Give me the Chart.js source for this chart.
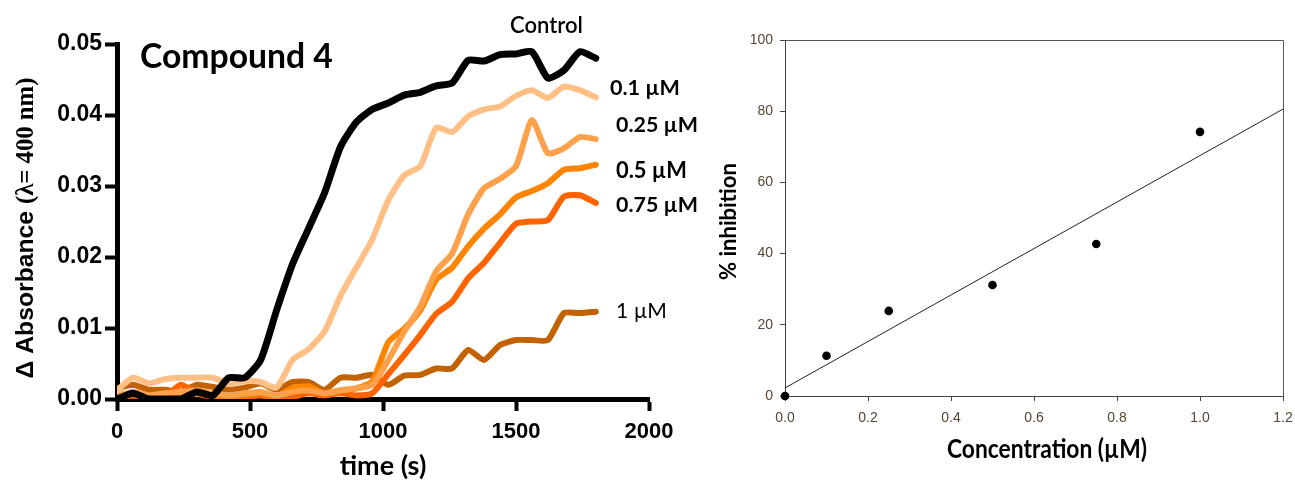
<!DOCTYPE html>
<html>
<head>
<meta charset="utf-8">
<script src="https://cdn.jsdelivr.net/npm/chart.js@4.4.1/dist/chart.umd.min.js"></script>
<style>
  html, body { margin: 0; padding: 0; background: #fff; }
  #wrap { position: relative; width: 1295px; height: 485px; overflow: hidden; }
  canvas { position: absolute; top: 0; }
  #kinetics { left: 0; }
  #inhibition { left: 700px; }
</style>
</head>
<body>
<div id="wrap">
  <canvas id="kinetics" width="700" height="485"></canvas>
  <canvas id="inhibition" width="595" height="485"></canvas>
</div>
<script>
// ---- Kinetic traces: change in absorbance at 400 nm vs. time ----
const timeS = [0, 60, 120, 180, 240, 300, 360, 420, 480, 540, 600, 660, 720, 780, 840, 900,
               960, 1020, 1080, 1140, 1200, 1260, 1320, 1380, 1440, 1500, 1560, 1620, 1680, 1740, 1800];

const control = [0, 0.0008, 0, 0, 0, 0.001, 0.0005, 0.003, 0.003, 0.0055, 0.0125, 0.019, 0.024, 0.029, 0.0355, 0.039,
                 0.0408, 0.0417, 0.0428, 0.0432, 0.0441, 0.0445, 0.0477, 0.0476, 0.0485, 0.0486, 0.0489, 0.0452, 0.0463, 0.0489, 0.048];
const dose01 = [0.0012, 0.003, 0.0022, 0.0028, 0.003, 0.003, 0.003, 0.0022, 0.0025, 0.0024, 0.0016, 0.0055, 0.007, 0.0095, 0.0145, 0.0185,
                0.0225, 0.028, 0.0315, 0.0328, 0.0382, 0.0376, 0.0398, 0.0408, 0.0412, 0.0427, 0.0435, 0.0424, 0.044, 0.0435, 0.0425];
const dose025 = [0.0005, 0.001, 0.0005, 0.0008, 0.001, 0.0012, 0.0008, 0.0005, 0.0008, 0.001, 0.0005, 0.001, 0.0012, 0.0008, 0.0012, 0.0015,
                 0.002, 0.0055, 0.0095, 0.013, 0.018, 0.0205, 0.026, 0.0297, 0.031, 0.0328, 0.0393, 0.0346, 0.0353, 0.0369, 0.0366];
const dose05 = [0, 0.0008, 0, 0.0003, 0.0005, 0.0008, 0.0005, 0.0003, 0.0005, 0.0008, 0.0003, 0.0015, 0.0018, 0.0008, 0.0012, 0.0015,
                0.0025, 0.008, 0.0099, 0.0125, 0.0168, 0.0185, 0.0215, 0.024, 0.026, 0.0284, 0.0293, 0.0304, 0.0323, 0.0325, 0.033];
const dose075 = [0, 0.0005, 0, 0.0003, 0.002, 0.0008, 0.0003, 0, 0.0003, 0.0005, 0, 0.0003, 0.0008, 0.0005, 0.0008, 0.0005,
                 0.0008, 0.0035, 0.0062, 0.009, 0.012, 0.0137, 0.017, 0.0192, 0.022, 0.0247, 0.025, 0.0252, 0.0285, 0.0287, 0.0276];
const dose1 = [0.0015, 0.002, 0.0013, 0.0013, 0.001, 0.002, 0.0017, 0.0013, 0.0016, 0.0022, 0.0013, 0.0024, 0.0024, 0.0013, 0.003, 0.003,
               0.0034, 0.002, 0.0033, 0.0034, 0.0043, 0.0043, 0.0069, 0.0055, 0.0076, 0.0083, 0.0083, 0.0083, 0.0121, 0.0121, 0.0123];

const seriesNames = ['Control', '0.1 \u00b5M', '0.25 \u00b5M', '0.5 \u00b5M', '0.75 \u00b5M', '1 \u00b5M'];
const seriesValues = [control, dose01, dose025, dose05, dose075, dose1];
const seriesColors = ['#000000', '#ffbf85', '#ffa04a', '#ff8400', '#ff6400', '#c26200'];
const seriesWidths = [7, 6, 6, 6, 6, 6];

const absTicks = [0, 0.01, 0.02, 0.03, 0.04, 0.05];
const timeTicks = [0, 500, 1000, 1500, 2000];

// ---- Dose response: % inhibition vs. concentration ----
const concentrationUM = [0, 0.1, 0.25, 0.5, 0.75, 1.0];
const inhibitionPct = [0, 11.3, 23.9, 31.2, 42.7, 74.2];
const concTicks = [0, 0.2, 0.4, 0.6, 0.8, 1.0, 1.2];
const pctTicks = [0, 20, 40, 60, 80, 100];

// least-squares straight line through the dose-response points
function linearFit(xs, ys) {
  const n = xs.length;
  const mx = xs.reduce((a, b) => a + b, 0) / n;
  const my = ys.reduce((a, b) => a + b, 0) / n;
  let sxy = 0, sxx = 0;
  for (let i = 0; i < n; i++) { sxy += (xs[i] - mx) * (ys[i] - my); sxx += (xs[i] - mx) ** 2; }
  const slope = sxy / sxx;
  return { slope, intercept: my - slope * mx };
}

// draw text scaled so that it spans a given width
function fitText(ctx, text, x, y, family, weight, width, stretchY) {
  ctx.font = `${weight} 100px ${family}`;
  const w = ctx.measureText(text).width;
  const size = 100 * width / w;
  ctx.font = `${weight} ${size}px ${family}`;
  ctx.save();
  ctx.translate(x, y);
  ctx.scale(1, stretchY || 1);
  ctx.fillText(text, 0, 0);
  ctx.restore();
}

Chart.defaults.font.family = "'Liberation Sans', Arial, sans-serif";

// ---------- left panel ----------
const kineticLabels = {
  id: 'kineticLabels',
  afterDraw(chart) {
    const ctx = chart.ctx;
    ctx.save();
    ctx.fillStyle = '#000';
    ctx.textAlign = 'left';
    ctx.textBaseline = 'alphabetic';
    fitText(ctx, 'Compound 4', 140, 68, 'Lato', 'bold', 193);
    const place = [
      { x: 510, y: 33, w: 73, wt: '600' },
      { x: 610, y: 95, w: 70, wt: 'bold' },
      { x: 616, y: 132, w: 82, wt: 'bold' },
      { x: 616, y: 178, w: 71, wt: 'bold' },
      { x: 616, y: 212, w: 82, wt: 'bold' },
      { x: 616, y: 318, w: 51, wt: 'normal' }
    ];
    seriesNames.forEach((name, i) => {
      const p = place[i];
      fitText(ctx, name, p.x, p.y, 'Lato', p.wt, p.w);
    });

    // vertical axis title: sans part + serif part, sized to span 301 px
    const part1 = '\u0394 Absorbance ';
    const part2 = '(\u03bb= 400 nm)';
    let size = 100;
    const f1 = s => `bold ${s}px 'Liberation Sans', Arial, sans-serif`;
    const f2 = s => `bold ${s}px 'Liberation Serif', 'Times New Roman', serif`;
    ctx.font = f1(size); let w1 = ctx.measureText(part1).width;
    ctx.font = f2(size); let w2 = ctx.measureText(part2).width;
    size = size * 301 / (w1 + w2);
    ctx.font = f1(size); w1 = ctx.measureText(part1).width;
    ctx.font = f2(size); w2 = ctx.measureText(part2).width;
    const total = w1 + w2;
    ctx.translate(33, 228);
    ctx.rotate(-Math.PI / 2);
    ctx.font = f1(size); ctx.fillText(part1, -total / 2, 0);
    ctx.font = f2(size); ctx.fillText(part2, -total / 2 + w1, 0);
    ctx.restore();
  }
};

new Chart(document.getElementById('kinetics'), {
  type: 'line',
  data: {
    datasets: seriesNames.map((name, i) => ({
      label: name,
      data: timeS.map((t, k) => ({ x: t, y: seriesValues[i][k] })),
      borderColor: seriesColors[i],
      backgroundColor: seriesColors[i],
      borderWidth: seriesWidths[i],
      borderCapStyle: 'round',
      borderJoinStyle: 'round',
      pointRadius: 0,
      tension: 0.2,
      fill: false
    }))
  },
  options: {
    responsive: false,
    animation: false,
    devicePixelRatio: 1,
    events: [],
    layout: { padding: { left: 0, top: 44, right: 51, bottom: 0 } },
    plugins: { legend: { display: false }, tooltip: { enabled: false } },
    scales: {
      x: {
        type: 'linear', min: 0, max: 2000,
        afterBuildTicks: s => { s.ticks = timeTicks.map(v => ({ value: v })); },
        ticks: { color: '#000', font: { size: 22, weight: 'bold' }, padding: 8, maxRotation: 0, callback: v => String(v) },
        grid: { drawOnChartArea: false, drawTicks: true, tickLength: 12, tickWidth: 4, tickColor: '#000' },
        border: { display: true, width: 5, color: '#000' },
        title: { display: true, text: 'time (s)', color: '#000',
                 font: { family: 'Lato', size: 27, weight: 'bold' }, padding: { top: 0, bottom: 3 } },
        afterFit: s => { s.height = 86; }
      },
      y: {
        min: 0, max: 0.05,
        afterBuildTicks: s => { s.ticks = absTicks.map(v => ({ value: v })); },
        ticks: { color: '#000', font: { size: 23, weight: 'bold' }, padding: 3, callback: v => v.toFixed(2) },
        grid: { drawOnChartArea: false, drawTicks: true, tickLength: 12, tickWidth: 4, tickColor: '#000' },
        border: { display: true, width: 5, color: '#000' },
        afterFit: s => { s.width = 117; }
      }
    }
  },
  plugins: [kineticLabels]
});

// ---------- right panel ----------
const fit = linearFit(concentrationUM, inhibitionPct);
const fitLine = [0, 1.2].map(x => ({ x, y: fit.intercept + fit.slope * x }));

const frameAndTitles = {
  id: 'frameAndTitles',
  afterDraw(chart) {
    const { ctx, chartArea: a } = chart;
    ctx.save();
    ctx.strokeStyle = '#555';
    ctx.lineWidth = 1;
    ctx.beginPath();
    ctx.moveTo(Math.round(a.left) + 0.5, Math.round(a.top) + 0.5);
    ctx.lineTo(Math.round(a.right) + 0.5, Math.round(a.top) + 0.5);
    ctx.lineTo(Math.round(a.right) + 0.5, Math.round(a.bottom) + 0.5);
    ctx.stroke();

    ctx.fillStyle = '#000';
    ctx.textAlign = 'left';
    ctx.textBaseline = 'alphabetic';
    fitText(ctx, 'Concentration (\u00b5M)', 247, 458, 'Lato', 'bold', 200, 1.2);

    ctx.translate(36, 280);
    ctx.rotate(-Math.PI / 2);
    fitText(ctx, '% inhibition', 0, 0, 'Lato', 'bold', 117);
    ctx.restore();
  }
};

new Chart(document.getElementById('inhibition'), {
  type: 'scatter',
  data: {
    datasets: [
      {
        label: 'fit',
        type: 'line',
        data: fitLine,
        borderColor: '#222',
        borderWidth: 1,
        pointRadius: 0,
        showLine: true,
        fill: false
      },
      {
        label: '% inhibition',
        data: concentrationUM.map((c, i) => ({ x: c, y: inhibitionPct[i] })),
        pointRadius: 4.3,
        pointBackgroundColor: '#000',
        pointBorderWidth: 0,
        clip: false
      }
    ]
  },
  options: {
    responsive: false,
    animation: false,
    devicePixelRatio: 1,
    events: [],
    layout: { padding: { left: 0, top: 40, right: 12, bottom: 0 } },
    plugins: { legend: { display: false }, tooltip: { enabled: false } },
    scales: {
      x: {
        type: 'linear', min: 0, max: 1.2,
        afterBuildTicks: s => { s.ticks = concTicks.map(v => ({ value: v })); },
        ticks: { color: '#554633', font: { size: 14 }, padding: 9, maxRotation: 0, callback: v => v.toFixed(1) },
        grid: { drawOnChartArea: false, drawTicks: true, tickLength: 5, tickWidth: 1, tickColor: '#444' },
        border: { display: true, width: 1, color: '#444' },
        afterFit: s => { s.height = 89; s.paddingLeft = 0; s.paddingRight = 0; }
      },
      y: {
        type: 'linear', min: 0, max: 100,
        afterBuildTicks: s => { s.ticks = pctTicks.map(v => ({ value: v })); },
        ticks: { color: '#554633', font: { size: 14 }, padding: 7 },
        grid: { drawOnChartArea: false, drawTicks: true, tickLength: 5, tickWidth: 1, tickColor: '#444' },
        border: { display: true, width: 1, color: '#444' },
        afterFit: s => { s.width = 85; s.paddingTop = 0; s.paddingBottom = 0; }
      }
    }
  },
  plugins: [frameAndTitles]
});
</script>
</body>
</html>
